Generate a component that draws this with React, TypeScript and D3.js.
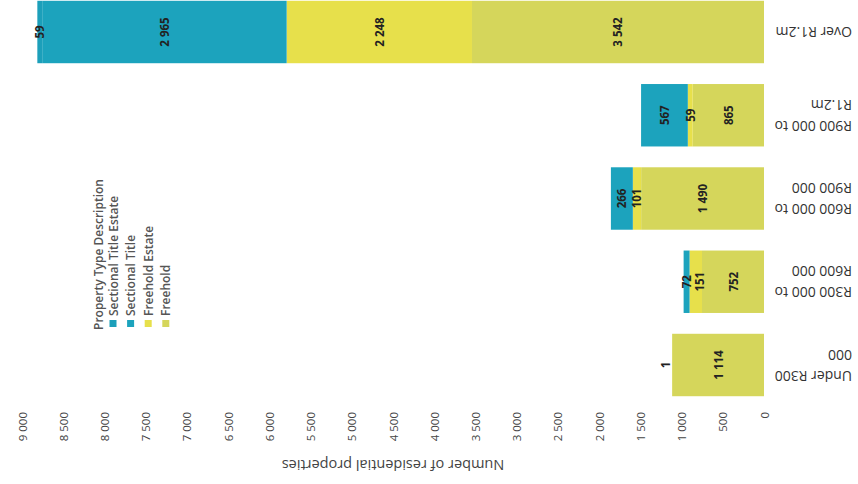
import React from "react";
import * as d3 from "d3";

// Data (chart is photographed upside-down, so it is drawn rotated 180°)
const categories = [
  "Over R1.2m",
  "R900 000 to R1.2m",
  "R600 000 to R900 000",
  "R300 000 to R600 000",
  "Under R300 000",
];
const categoryLines = [
  ["Over R1.2m"],
  ["R900 000 to", "R1.2m"],
  ["R600 000 to", "R900 000"],
  ["R300 000 to", "R600 000"],
  ["Under R300", "000"],
];
const freehold = [3542, 865, 1490, 752, 1114];
const freeholdEstate = [2248, 59, 101, 151, 1];
const sectionalTitle = [2965, 567, 266, 72, 0];
const sectionalTitleEstate = [59, 0, 0, 0, 0];
const seriesNames = ["Freehold", "Freehold Estate", "Sectional Title", "Sectional Title Estate"];
const legendOrder = ["Sectional Title Estate", "Sectional Title", "Freehold Estate", "Freehold"];
const tickValues = [0, 500, 1000, 1500, 2000, 2500, 3000, 3500, 4000, 4500, 5000, 5500, 6000, 6500, 7000, 7500, 8000, 8500, 9000];
const legendTitle = "Property Type Description";
const axisTitle = "Number of residential properties";

const colors: Record<string, string> = {
  "Freehold": "#d5d65b",
  "Freehold Estate": "#e7e04b",
  "Sectional Title": "#1ca3bd",
  "Sectional Title Estate": "#1c9fba",
};

const W = 858;
const H = 484;
const FONT = "'Open Sans', sans-serif";

export default function App() {
  const rows = categories.map((c, i) => ({
    category: c,
    "Freehold": freehold[i],
    "Freehold Estate": freeholdEstate[i],
    "Sectional Title": sectionalTitle[i],
    "Sectional Title Estate": sectionalTitleEstate[i],
  }));
  const stack = d3.stack<any>().keys(seriesNames);
  const series = stack(rows);

  const x = d3.scaleLinear().domain([0, 9000]).range([764, 22]);
  const step = 83.25;
  const y = d3
    .scaleBand<string>()
    .domain(categories)
    .range([32 - step / 2, 365 + step / 2])
    .paddingInner(0.25)
    .paddingOuter(0.125);
  const bw = y.bandwidth();
  const fmt = (v: number) => d3.format(",")(v).replace(/,/g, " ");

  // value labels with simple de-overlap
  const labels: any[] = [];
  categories.forEach((c, ci) => {
    const items: any[] = [];
    series.forEach((s) => {
      const d = s[ci];
      const v = d[1] - d[0];
      if (v <= 0) return;
      const x0 = x(d[0]);
      const x1 = x(d[1]);
      let cx = (x0 + x1) / 2;
      if (Math.abs(x0 - x1) < 3) cx = x1 - 7;
      items.push({ key: s.key + c, cx, cy: (y(c) as number) + bw / 2, text: fmt(v) });
    });
    items.sort((a, b) => a.cx - b.cx);
    for (let i = 1; i < items.length; i++) {
      items[i].cx = Math.max(items[i].cx, items[i - 1].cx + 13);
    }
    labels.push(...items);
  });

  return (
    <svg
      width={W}
      height={H}
      style={{ position: "absolute", left: 0, top: 0, background: "#fff" }}
      fontFamily={FONT}
    >
      <rect width={W} height={H} fill="#fff" />
      {series.map((s) => (
        <g key={s.key} fill={colors[s.key]}>
          {s.map((d, i) => {
            const v = d[1] - d[0];
            if (v <= 0) return null;
            return (
              <rect
                key={i}
                x={x(d[1])}
                y={y(categories[i])}
                width={x(d[0]) - x(d[1])}
                height={bw}
              />
            );
          })}
        </g>
      ))}
      {labels.map((l) => (
        <text
          key={l.key}
          transform={`translate(${l.cx},${l.cy}) rotate(-90)`}
          textAnchor="middle"
          dominantBaseline="central"
          fontSize={11.5}
          fontWeight="bold"
          fill="#222"
        >
          {l.text}
        </text>
      ))}
      {/* category labels (upside-down) */}
      {categories.map((c, i) => {
        const cy = (y(c) as number) + bw / 2;
        const lines = categoryLines[i];
        return lines.map((ln, j) => {
          const off = lines.length === 1 ? 0 : j === 0 ? 11 : -10;
          return (
            <text
              key={c + j}
              transform={`translate(852,${cy + off}) rotate(180)`}
              textAnchor="start"
              dominantBaseline="central"
              fontSize={14}
              fill="#333"
            >
              {ln}
            </text>
          );
        });
      })}
      {/* tick labels */}
      {tickValues.map((t) => (
        <text
          key={t}
          transform={`translate(${x(t)},412) rotate(-90)`}
          textAnchor="end"
          dominantBaseline="central"
          fontSize={11.5}
          fill="#444"
        >
          {fmt(t)}
        </text>
      ))}
      {/* axis title */}
      <text
        transform={`translate(${(x(0) + x(9000)) / 2},465) rotate(180)`}
        textAnchor="middle"
        dominantBaseline="central"
        fontSize={14.5}
        fill="#444"
      >
        {axisTitle}
      </text>
      {/* legend */}
      <text
        transform={`translate(98,330) rotate(-90)`}
        textAnchor="start"
        dominantBaseline="central"
        fontSize={12}
        fontWeight={600}
        fill="#555"
      >
        {legendTitle}
      </text>
      {legendOrder.map((name, i) => {
        const lx = 113 + i * 17.6;
        return (
          <g key={name}>
            <rect x={lx - 3.5} y={320} width={7} height={7} fill={colors[name]} />
            <text
              transform={`translate(${lx},316) rotate(-90)`}
              textAnchor="start"
              dominantBaseline="central"
              fontSize={12}
              fontWeight={600}
              fill="#555"
            >
              {name}
            </text>
          </g>
        );
      })}
    </svg>
  );
}
